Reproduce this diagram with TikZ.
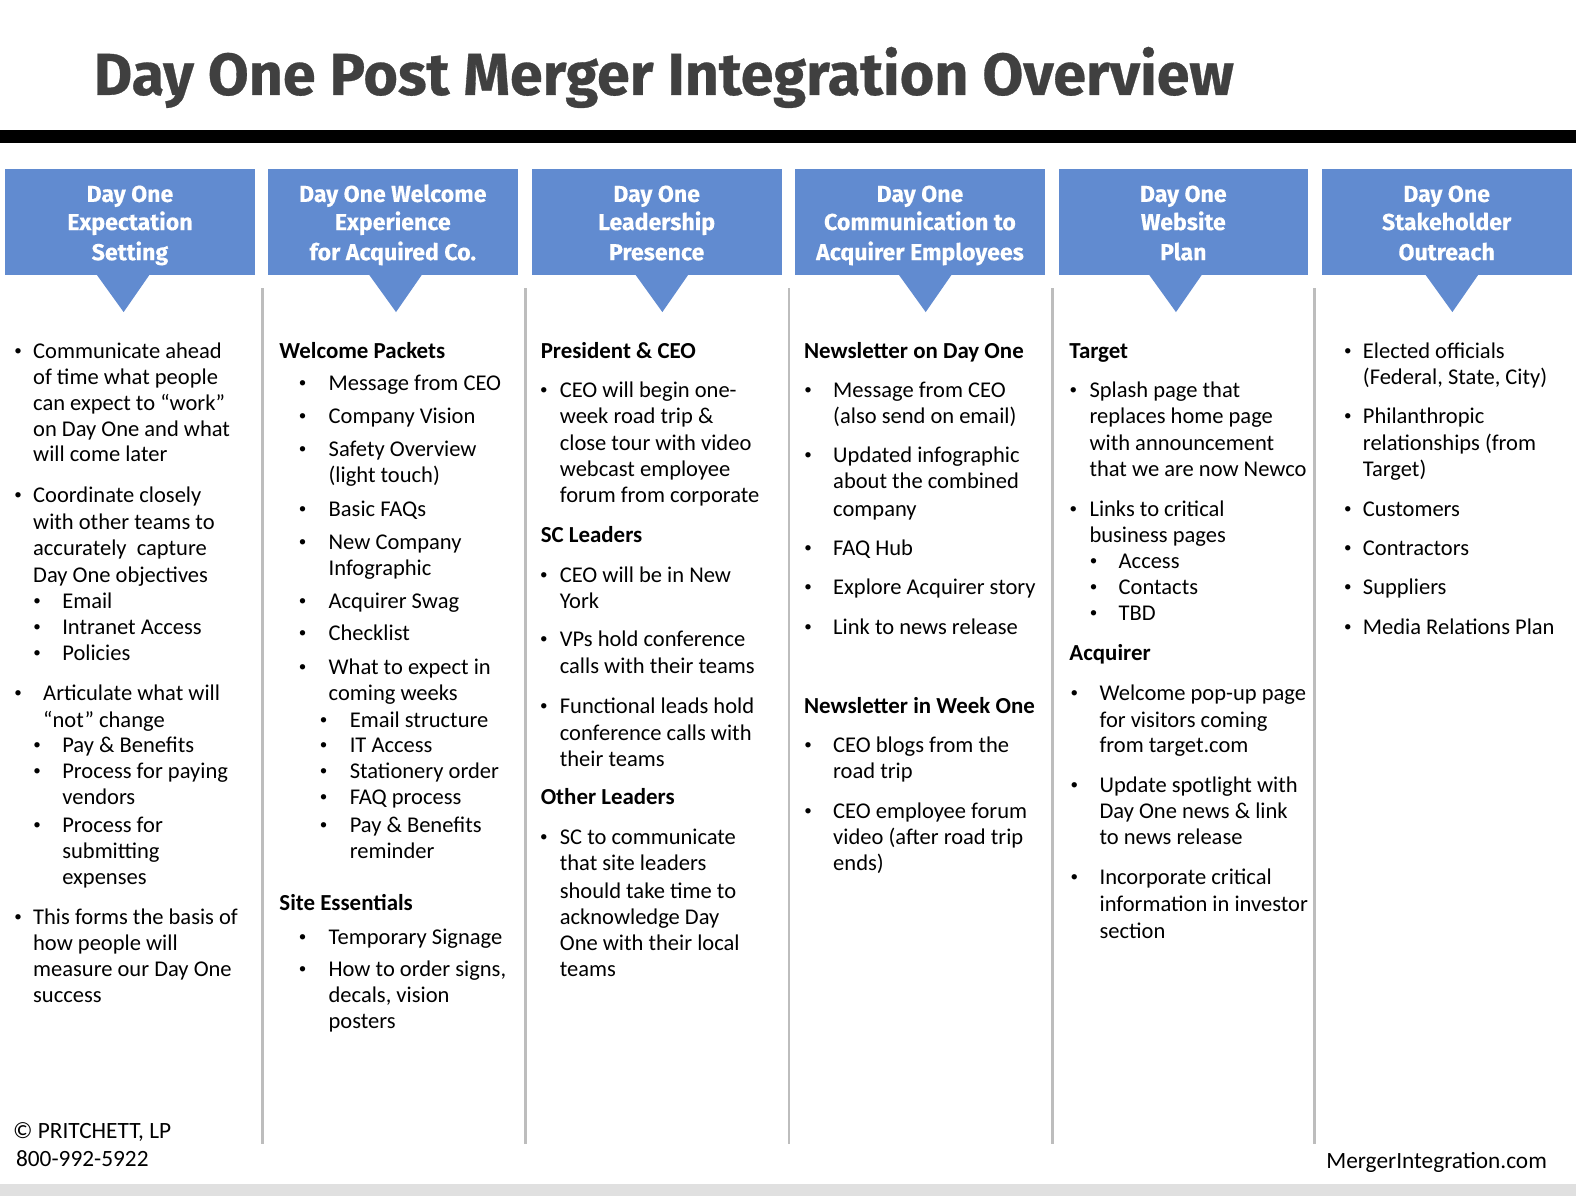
\documentclass[tikz,border=0pt]{standalone}
\usepackage{fontspec}
\setmainfont{Carlito}
\newfontfamily\heavy[FakeBold=0.5]{Fira Sans Bold}
\newfontfamily\heavyh[FakeBold=0.3]{Fira Sans Bold}
\definecolor{hdrblue}{HTML}{618BD0}
\definecolor{ttlgrey}{HTML}{404040}
\definecolor{sepgrey}{HTML}{BDBDBD}
\definecolor{botgrey}{HTML}{E0E0E0}
\newcounter{tn}
\tikzset{
 bodytext/.style={anchor=mid west,inner sep=0pt,outer sep=0pt,font=\fontsize{22.4}{24}\selectfont,text=black},
 headtext/.style={bodytext,font=\fontsize{22.8}{24}\selectfont\bfseries},
 bulletmark/.style={anchor=center,inner sep=0pt,outer sep=0pt,font=\fontsize{15}{16}\selectfont,text=black},
 foottext/.style={inner sep=0pt,outer sep=0pt,font=\fontsize{23.2}{26}\selectfont,text=black},
 hdrbox/.style={fill=hdrblue,draw=none,minimum width=248.5pt,minimum height=105.5pt,inner sep=0pt,anchor=north west},
 hdrtxt/.style={inner sep=0pt,outer sep=0pt,anchor=mid,text=white,font=\heavyh\fontsize{23}{24}\selectfont},
 sepline/.style={draw=sepgrey,line width=2.6pt},
}
\newcommand\tx[3]{\stepcounter{tn}\node[bodytext] (t\arabic{tn}) at (#1,#2+5) {#3};}
\newcommand\hd[3]{\stepcounter{tn}\node[headtext] (t\arabic{tn}) at (#1,#2+5) {#3};}
\newcommand\bu[4]{\stepcounter{tn}\node[bulletmark] (b\arabic{tn}) at (#1+4,#3+1) {•};\node[bodytext] (t\arabic{tn}) at (#2,#3+5) {#4};}
\newcommand\hdr[6]{%
 \node[hdrbox] (#3) at (#1,168) {};
 \fill[hdrblue] (#2-27,273) -- (#2,310.5) -- (#2+26,273) -- cycle;
 \node[hdrtxt] (#3a) at (#1+124.3,198.5) {#4};
 \node[hdrtxt] (#3b) at (#1+124.3,226.5) {#5};
 \node[hdrtxt] (#3c) at (#1+124.3,256.5) {#6};
}
\begin{document}
\begin{tikzpicture}[x=1pt,y=-1pt]
\useasboundingbox (0,0) rectangle (1568,1190);
\fill[white] (0,0) rectangle (1568,1190);
\node[inner sep=0pt,anchor=mid west,text=ttlgrey,font=\heavy\fontsize{58.9}{64}\selectfont] (title) at (93,92) {Day One Post Merger Integration Overview};
\fill[black] (0,129) rectangle (1568,142);
\fill[botgrey] (0,1178) rectangle (1568,1190);
\foreach \x in {261,523,785,1047,1308} \draw[sepline] (\x,287) -- (\x,1138);
\hdr{5}{123}{ha}{Day One}{Expectation}{Setting}
\hdr{266.5}{394}{hb}{Day One Welcome}{Experience}{for Acquired Co.}
\hdr{529}{659}{hc}{Day One}{Leadership}{Presence}
\hdr{791}{921}{hd}{Day One}{Communication to}{Acquirer Employees}
\hdr{1053}{1170}{he}{Day One}{Website}{Plan}
\hdr{1315}{1445}{hf}{Day One}{Stakeholder}{Outreach}
% column 1
\bu{14}{33}{349}{Communicate ahead}
\tx{33}{375}{of time what people}
\tx{33}{401}{can expect to “work”}
\tx{33}{427}{on Day One and what}
\tx{33}{452}{will come later}
\bu{14}{33}{493}{Coordinate closely}
\tx{33}{519}{with other teams to}
\tx{33}{545}{accurately\ \ capture}
\tx{33}{572}{Day One objectives}
\bu{33}{62}{598}{Email}
\bu{33}{62}{624}{Intranet Access}
\bu{33}{62}{650}{Policies}
\bu{14}{43}{690}{Articulate what will}
\tx{43}{716}{“not” change}
\bu{33}{62}{741}{Pay \& Benefits}
\bu{33}{62}{767}{Process for paying}
\tx{62}{793}{vendors}
\bu{33}{62}{821}{Process for}
\tx{62}{847}{submitting}
\tx{62}{873}{expenses}
\bu{14}{33}{912}{This forms the basis of}
\tx{33}{938}{how people will}
\tx{33}{964}{measure our Day One}
\tx{33}{990}{success}
% column 2
\hd{278}{349}{Welcome Packets}
\bu{297}{327}{381}{Message from CEO}
\bu{297}{327}{414}{Company Vision}
\bu{297}{327}{447}{Safety Overview}
\tx{327}{473}{(light touch)}
\bu{297}{327}{506}{Basic FAQs}
\bu{297}{327}{539}{New Company}
\tx{327}{565}{Infographic}
\bu{297}{327}{598}{Acquirer Swag}
\bu{297}{327}{630}{Checklist}
\bu{297}{327}{664}{What to expect in}
\tx{327}{690}{coming weeks}
\bu{318}{348}{716}{Email structure}
\bu{318}{348}{741}{IT Access}
\bu{318}{348}{767}{Stationery order}
\bu{318}{348}{793}{FAQ process}
\bu{318}{348}{821}{Pay \& Benefits}
\tx{348}{847}{reminder}
\hd{278}{898}{Site Essentials}
\bu{297}{327}{932}{Temporary Signage}
\bu{297}{327}{964}{How to order signs,}
\tx{327}{990}{decals, vision}
\tx{327}{1016}{posters}
% column 3
\hd{538}{349}{President \& CEO}
\bu{537}{557}{388}{CEO will begin one-}
\tx{557}{414}{week road trip \&}
\tx{557}{441}{close tour with video}
\tx{557}{467}{webcast employee}
\tx{557}{493}{forum from corporate}
\hd{538}{532}{SC Leaders}
\bu{537}{557}{572}{CEO will be in New}
\tx{557}{598}{York}
\bu{537}{557}{636}{VPs hold conference}
\tx{557}{663}{calls with their teams}
\bu{537}{557}{702}{Functional leads hold}
\tx{557}{729}{conference calls with}
\tx{557}{755}{their teams}
\hd{538}{793}{Other Leaders}
\bu{537}{557}{833}{SC to communicate}
\tx{557}{859}{that site leaders}
\tx{557}{887}{should take time to}
\tx{557}{912}{acknowledge Day}
\tx{557}{938}{One with their local}
\tx{557}{964}{teams}
% column 4
\hd{800}{349}{Newsletter on Day One}
\bu{800}{829}{388}{Message from CEO}
\tx{829}{414}{(also send on email)}
\bu{800}{829}{453}{Updated infographic}
\tx{829}{479}{about the combined}
\tx{829}{506}{company}
\bu{800}{829}{545}{FAQ Hub}
\bu{800}{829}{584}{Explore Acquirer story}
\bu{800}{829}{624}{Link to news release}
\hd{800}{702}{Newsletter in Week One}
\bu{800}{829}{741}{CEO blogs from the}
\tx{829}{767}{road trip}
\bu{800}{829}{807}{CEO employee forum}
\tx{829}{833}{video (after road trip}
\tx{829}{859}{ends)}
% column 5
\hd{1064}{349}{Target}
\bu{1064}{1084}{388}{Splash page that}
\tx{1084}{414}{replaces home page}
\tx{1084}{441}{with announcement}
\tx{1084}{467}{that we are now Newco}
\bu{1064}{1084}{506}{Links to critical}
\tx{1084}{532}{business pages}
\bu{1084}{1113}{558}{Access}
\bu{1084}{1113}{584}{Contacts}
\bu{1084}{1113}{610}{TBD}
\hd{1064}{650}{Acquirer}
\bu{1065}{1094}{690}{Welcome pop-up page}
\tx{1094}{716}{for visitors coming}
\tx{1094}{741}{from target.com}
\bu{1065}{1094}{781}{Update spotlight with}
\tx{1094}{807}{Day One news \& link}
\tx{1094}{833}{to news release}
\bu{1065}{1094}{873}{Incorporate critical}
\tx{1094}{899}{information in investor}
\tx{1094}{926}{section}
% column 6
\bu{1337}{1356}{349}{Elected officials}
\tx{1356}{375}{(Federal, State, City)}
\bu{1337}{1356}{414}{Philanthropic}
\tx{1356}{441}{relationships (from}
\tx{1356}{467}{Target)}
\bu{1337}{1356}{506}{Customers}
\bu{1337}{1356}{545}{Contractors}
\bu{1337}{1356}{584}{Suppliers}
\bu{1337}{1356}{624}{Media Relations Plan}
% footer
\node[foottext,anchor=mid west] (f1) at (13,1130) {© PRITCHETT, LP};
\node[foottext,anchor=mid west] (f2) at (16,1158) {800-992-5922};
\node[foottext,anchor=mid east] (f3) at (1539,1160) {MergerIntegration.com};
\end{tikzpicture}
\end{document}
